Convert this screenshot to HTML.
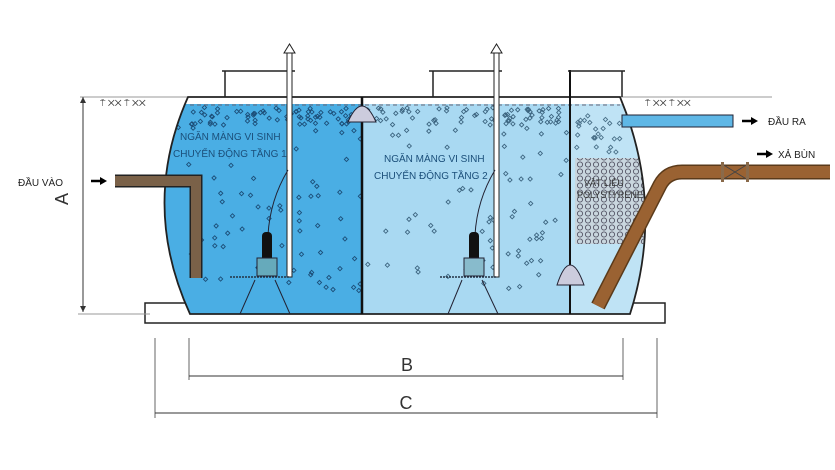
<!DOCTYPE html>
<html><head><meta charset="utf-8"><style>
html,body{margin:0;padding:0;background:#fff;}
svg{display:block;font-family:"Liberation Sans",sans-serif;}
</style></head><body>
<svg id="s" width="835" height="470" viewBox="0 0 835 470" xmlns="http://www.w3.org/2000/svg">
<defs>
<clipPath id="tank"><path d="M188,97 L620,97 Q665,205 630,314 L190,314 Q140,205 188,97 Z"/></clipPath>
<pattern id="poly" width="8" height="7" patternUnits="userSpaceOnUse"><rect width="8" height="7" fill="#c9d6de"/><circle cx="4" cy="3.5" r="2.6" fill="none" stroke="#556" stroke-width="0.9"/></pattern>
</defs>
<line x1="80" y1="97" x2="190" y2="97" stroke="#999" stroke-width="1"/>
<line x1="620" y1="97" x2="772" y2="97" stroke="#999" stroke-width="1"/>
<text x="100" y="106" font-size="9" fill="#333">⍑ ✕✕   ⍑ ✕✕</text>
<text x="645" y="106" font-size="9" fill="#333">⍑ ✕✕   ⍑ ✕✕</text>
<rect x="145" y="303" width="520" height="20" fill="#fff" stroke="#222" stroke-width="1.5"/>
<g clip-path="url(#tank)">
<rect x="140" y="90" width="222" height="230" fill="#4aaee4"/>
<rect x="362" y="90" width="208" height="230" fill="#a9d9f2"/>
<rect x="570" y="90" width="100" height="230" fill="#bfe3f5"/>
<rect x="140" y="90" width="530" height="14" fill="#fff"/>
<rect x="575" y="158" width="80" height="86" fill="url(#poly)"/>
<g id="dots"></g>
</g>
<path d="M188,97 L620,97 Q665,205 630,314 L190,314 Q140,205 188,97 Z" fill="none" stroke="#222" stroke-width="1.8"/>
<line x1="190" y1="105" x2="620" y2="105" stroke="#667" stroke-width="1" stroke-dasharray="4,3"/>
<line x1="362" y1="97" x2="362" y2="314" stroke="#111" stroke-width="2.5"/>
<line x1="570" y1="70" x2="570" y2="314" stroke="#111" stroke-width="2"/>
<path d="M225,97 V71 H290 M222,71 H295 M290,71 V97" fill="none" stroke="#222" stroke-width="1.5"/>
<path d="M433,97 V71 H497 M429,71 H502 M497,71 V97" fill="none" stroke="#222" stroke-width="1.5"/>
<path d="M568,71 H625 M622,71 V97" fill="none" stroke="#222" stroke-width="1.5"/>
<rect x="287" y="52" width="5" height="225" fill="#fff" stroke="#222" stroke-width="1"/>
<polygon points="284,53 289.5,44 295,53" fill="#fff" stroke="#222"/>
<rect x="494" y="52" width="5" height="225" fill="#fff" stroke="#222" stroke-width="1"/>
<polygon points="491,53 496.5,44 502,53" fill="#fff" stroke="#222"/>
<line x1="230" y1="277" x2="290" y2="277" stroke="#234" stroke-width="1.5" stroke-dasharray="2,1"/>
<line x1="440" y1="277" x2="497" y2="277" stroke="#234" stroke-width="1.5" stroke-dasharray="2,1"/>
<path d="M255,280 L240,314 M275,280 L290,314 M462,280 L448,314 M482,280 L498,314" stroke="#223" stroke-width="1" fill="none"/>
<path d="M288,170 Q270,200 268,235" stroke="#223" fill="none"/>
<rect x="262" y="232" width="10" height="30" rx="4" fill="#111"/>
<rect x="257" y="258" width="20" height="18" fill="#6ab" stroke="#223"/>
<path d="M495,170 Q477,200 475,235" stroke="#223" fill="none"/>
<rect x="469" y="232" width="10" height="30" rx="4" fill="#111"/>
<rect x="464" y="258" width="20" height="18" fill="#8bc" stroke="#223"/>
<path d="M348,122 Q362,90 376,122 Z" fill="#ccd" stroke="#223"/>
<path d="M557,285 Q570,245 584,285 Z" fill="#ccd" stroke="#223"/>
<path d="M115,181 H196 V278" fill="none" stroke="#222" stroke-width="13"/>
<path d="M115,181 H196 V278" fill="none" stroke="#7a6148" stroke-width="10"/>
<text x="18" y="186" font-size="10" fill="#222">ĐẦU VÀO</text>
<path d="M91,181 H101" stroke="#000" stroke-width="2.5"/><polygon points="100,177 107,181 100,185" fill="#000"/>
<rect x="622" y="115" width="111" height="12" fill="#5fb7e6" stroke="#223"/>
<path d="M742,121 H752" stroke="#000" stroke-width="2.5"/><polygon points="751,117 758,121 751,125" fill="#000"/>
<text x="768" y="125" font-size="10" fill="#222">ĐẦU RA</text>
<path d="M598,306 L660,185 Q667,172 682,172 H830" fill="none" stroke="#5a3a1a" stroke-width="15"/>
<path d="M598,306 L660,185 Q667,172 682,172 H830" fill="none" stroke="#9a6232" stroke-width="12"/>
<path d="M722,164 L748,180 M722,180 L748,164" stroke="#444" stroke-width="1"/>
<rect x="721" y="162" width="3" height="20" fill="#8a6a4a"/>
<rect x="746" y="162" width="3" height="20" fill="#8a6a4a"/>
<path d="M757,154 H767" stroke="#000" stroke-width="2.5"/><polygon points="766,150 773,154 766,158" fill="#000"/>
<text x="778" y="158" font-size="10" fill="#222">XẢ BÙN</text>
<g font-size="10" fill="#1b4f7a">
<text x="180" y="140">NGĂN MÀNG VI SINH</text>
<text x="173" y="157">CHUYỂN ĐỘNG TẦNG 1</text>
<text x="384" y="162">NGĂN MÀNG VI SINH</text>
<text x="374" y="179">CHUYỂN ĐỘNG TẦNG 2</text>
</g>
<g font-size="9" fill="#333">
<text x="584" y="186">VẬT LIỆU</text>
<text x="577" y="198">POLYSTYRENE</text>
</g>
<line x1="83" y1="97" x2="83" y2="312" stroke="#333"/>
<polygon points="80,103 83,97 86,103" fill="#333"/><polygon points="80,306 83,312 86,306" fill="#333"/>
<line x1="78" y1="314" x2="150" y2="314" stroke="#999"/>
<text x="74" y="205" font-size="18" fill="#333" transform="rotate(-90 68 205)" text-anchor="middle">A</text>
<line x1="155" y1="338" x2="155" y2="418" stroke="#666"/>
<line x1="657" y1="338" x2="657" y2="418" stroke="#666"/>
<line x1="189" y1="338" x2="189" y2="380" stroke="#666"/>
<line x1="623" y1="338" x2="623" y2="380" stroke="#666"/>
<line x1="189" y1="376" x2="623" y2="376" stroke="#333"/>
<line x1="155" y1="413" x2="657" y2="413" stroke="#333"/>
<text x="407" y="371" font-size="18" fill="#333" text-anchor="middle">B</text>
<text x="406" y="409" font-size="18" fill="#333" text-anchor="middle">C</text>
</svg>
<script>
var g=document.getElementById('dots'),ns='http://www.w3.org/2000/svg',seed=7;
function r(){seed=(seed*16807)%2147483647;return seed/2147483647;}
var boxes=[[170,128,290,160],[370,150,490,183]];
function ok(x,y){for(var b of boxes){if(x>b[0]&&x<b[2]&&y>b[1]&&y<b[3])return false;}return true;}
function add(x,y,c){if(!ok(x,y))return;var e=document.createElementNS(ns,'rect');e.setAttribute('x',x);e.setAttribute('y',y);e.setAttribute('width',3);e.setAttribute('height',3);e.setAttribute('fill','none');e.setAttribute('stroke',c);e.setAttribute('stroke-width','0.9');e.setAttribute('transform','rotate(45 '+(x+1.5)+' '+(y+1.5)+')');g.appendChild(e);}
for(var i=0;i<70;i++){add(190+r()*170,106+r()*18,'#1c4e78');}
for(var i=0;i<70;i++){add(176+r()*184,125+r()*165,'#1c4e78');}
for(var i=0;i<70;i++){add(366+r()*200,106+r()*18,'#3d6580');}
for(var i=0;i<80;i++){add(366+r()*200,125+r()*165,'#3d6580');}
for(var i=0;i<25;i++){add(574+r()*45,108+r()*45,'#4a7088');}
</script>
</body></html>
